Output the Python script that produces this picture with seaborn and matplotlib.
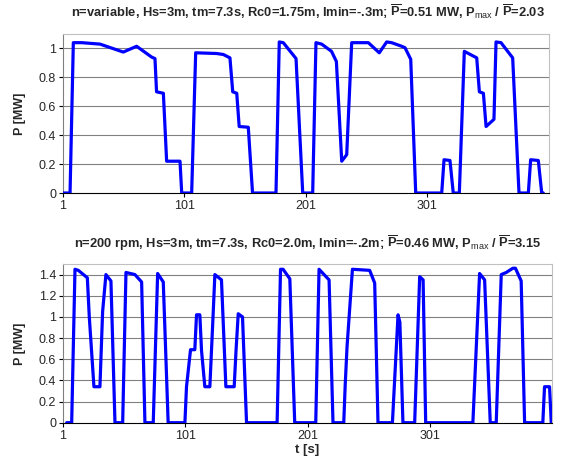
import matplotlib
matplotlib.use("Agg")
import matplotlib.pyplot as plt
import seaborn as sns
import pandas as pd

# ---- data ----
t_top = [1, 6.8, 9.5, 16.4, 31.5, 50.6, 61.6, 74, 76.7, 78, 83.6, 86.3, 97.3, 98.7, 106.9,
         110.2, 127.5, 133, 138.4, 140.7, 144, 146, 153.5, 157, 176.3, 179, 182.3, 192.8, 198.3, 206.5,
         209.2, 213.9, 222, 226, 230.4, 234.5, 238.6, 252.3, 261.3, 267.4, 271.5, 279.8, 282.5, 287.2, 291.3,
         312.7, 314.6, 319.5, 322.2, 327.2, 331.3, 341.5, 343.7, 347, 349.2, 355.7, 357.4, 361.5, 371.1, 376.3,
         384, 385.9, 392.2, 395, 396.3]
p_top = [0, 0, 1.04, 1.04, 1.03, 0.975, 1.015, 0.94, 0.93, 0.70, 0.69, 0.22, 0.22, 0, 0,
         0.97, 0.965, 0.958, 0.935, 0.70, 0.69, 0.46, 0.455, 0, 0, 1.045, 1.04, 0.93, 0, 0,
         1.04, 1.03, 0.98, 0.91, 0.22, 0.265, 1.04, 1.04, 0.97, 1.045, 1.04, 1.015, 1.005, 0.925, 0,
         0, 0.23, 0.225, 0, 0, 0.98, 0.935, 0.70, 0.69, 0.46, 0.51, 1.045, 1.04, 0.935, 0,
         0, 0.23, 0.225, 0, 0]

t_bot = [4, 8.1, 10.8, 13.5, 20.9, 22.5, 26.3, 31.2, 33.4, 36.1, 40.2, 43.5, 49.8, 52.5, 59.8,
         65.3, 68, 74.8, 78.4, 83, 87, 100.7, 102, 105.3, 108.8, 110.2, 112.9, 114.3, 117, 121.1,
         123.8, 125.2, 130.6, 134.2, 141, 142.5, 144.3, 147.8, 151.1, 176.1, 178.9, 181, 186.5, 190.5, 207.7,
         210.4, 218.6, 221.8, 230.6, 231.8, 233.3, 237.7, 245, 251.8, 255.9, 258.6, 270.4, 275, 276.5, 279,
         288.6, 292.7, 295.5, 297.6, 336.2, 341.7, 345.8, 350.4, 355.3, 359.4, 363.5, 368.9, 371, 375.7, 378.5,
         393.4, 394.8, 398.9, 400.3]
p_bot = [0, 0, 1.45, 1.44, 1.37, 1.0, 0.34, 0.34, 1.05, 1.40, 1.34, 0, 0, 1.42, 1.40,
         1.33, 0, 0, 1.41, 1.33, 0, 0, 0.34, 0.69, 0.69, 1.02, 1.02, 0.68, 0.34, 0.34,
         1.03, 1.40, 1.35, 0.34, 0.34, 0.68, 1.03, 1.0, 0, 0, 1.45, 1.45, 1.36, 0, 0,
         1.45, 1.35, 0, 0, 0.36, 0.72, 1.45, 1.445, 1.44, 1.32, 0, 0, 1.02, 0.95, 0,
         0, 1.38, 1.35, 0, 0, 1.41, 1.35, 0, 0, 1.40, 1.42, 1.46, 1.46, 1.34, 0,
         0, 0.34, 0.34, 0]

x_ticks = [1, 101, 201, 301]
y_ticks_top = [0, 0.2, 0.4, 0.6, 0.8, 1]
y_ticks_bot = [0, 0.2, 0.4, 0.6, 0.8, 1, 1.2, 1.4]

title_top = (r"n=variable, Hs=3m, tm=7.3s, Rc0=1.75m, Imin=-.3m; $\overline{\mathbf{P}}$=0.51 MW, "
             r"P$_{\mathrm{max}}$ / $\overline{\mathbf{P}}$=2.03")
title_bot = (r"n=200 rpm, Hs=3m, tm=7.3s, Rc0=2.0m, Imin=-.2m; $\overline{\mathbf{P}}$=0.46 MW, "
             r"P$_{\mathrm{max}}$ / $\overline{\mathbf{P}}$=3.15")

sns.set_style("white")
plt.rcParams['font.family'] = ['Liberation Sans', 'DejaVu Sans']
plt.rcParams['mathtext.fontset'] = 'custom'
plt.rcParams['mathtext.rm'] = 'Liberation Sans'
plt.rcParams['mathtext.bf'] = 'Liberation Sans:bold'
plt.rcParams['mathtext.it'] = 'Liberation Sans:bold'

W, H = 567, 465
fig = plt.figure(figsize=(W / 100, H / 100), dpi=100)


def px_axes(l, r, t, b):
    return fig.add_axes([l / W, 1 - b / H, (r - l) / W, (b - t) / H])


ax1 = px_axes(63, 549, 34, 193)
ax2 = px_axes(63, 551.5, 264, 422.7)

df1 = pd.DataFrame({"t": t_top, "P": p_top})
df2 = pd.DataFrame({"t": t_bot, "P": p_bot})

for ax, df, yt, ymax, xmax, title, ty in [
        (ax1, df1, y_ticks_top, 1.1, 401, title_top, 12),
        (ax2, df2, y_ticks_bot, 1.5, 400.5, title_bot, 243)]:
    ax.set_ylim(0, ymax)
    ax.set_xlim(1, xmax)
    for v in yt[1:]:
        ax.axhline(v, color='#808080', lw=0.8, zorder=1)
    sns.lineplot(data=df, x="t", y="P", ax=ax, color='#0000ff', lw=2.3,
                 sort=False, estimator=None, zorder=3)
    ax.set_xticks(x_ticks)
    ax.set_xticklabels([str(v) for v in x_ticks])
    ax.set_yticks(yt)
    ax.set_yticklabels([("%g" % v) for v in yt])
    ax.tick_params(axis='both', labelsize=9, length=3, width=0.8, color='black',
                   direction='out', pad=2, left=True, bottom=True)
    for s in ['top', 'right']:
        ax.spines[s].set_color('#c0c0c0')
        ax.spines[s].set_linewidth(0.8)
    ax.spines['left'].set_color('#808080')
    ax.spines['left'].set_linewidth(0.8)
    ax.spines['bottom'].set_color('black')
    ax.spines['bottom'].set_linewidth(0.8)
    ax.set_xlabel("")
    ax.set_ylabel("P [MW]", fontsize=9, fontweight='bold')
    ax.yaxis.set_label_coords((26 - 63) / 486, 0.5)
    fig.text(308 / W, 1 - ty / H, title, ha='center', va='center',
             fontsize=9.3, fontweight='bold')

fig.text(307 / W, 1 - 450 / H, "t [s]", ha='center', va='center',
         fontsize=9.5, fontweight='bold')

fig.savefig("out.png", dpi=100)
